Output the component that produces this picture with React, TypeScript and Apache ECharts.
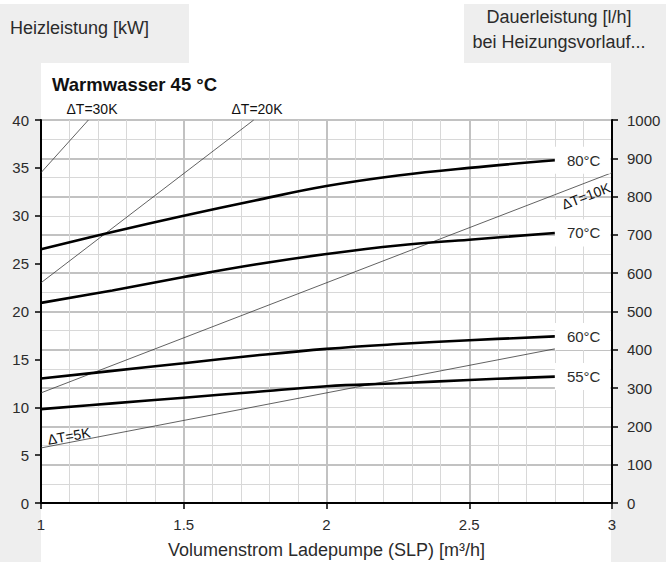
import React, { useEffect, useRef } from "react";
import * as echarts from "echarts";

// Charging-pump flow rate [m³/h] at which the heating curves are sampled
const flowRate = [1.0, 1.25, 1.5, 1.75, 2.0, 2.25, 2.5, 2.8];

// Heating output [kW] per heating flow temperature
const heat80 = [26.5, 28.3, 30.0, 31.6, 33.1, 34.2, 35.0, 35.8];
const heat70 = [20.9, 22.2, 23.6, 24.9, 26.0, 26.9, 27.5, 28.2];
const heat60 = [13.0, 13.8, 14.6, 15.4, 16.1, 16.6, 17.0, 17.4];
const heat55 = [9.8, 10.4, 11.0, 11.6, 12.2, 12.5, 12.85, 13.2];
const curveNames = ["80°C", "70°C", "60°C", "55°C"];

// Temperature-spread reference lines: [flow rate, kW] end points
const spread30K = [[1.0, 34.5], [1.166, 40]];
const spread20K = [[1.0, 23.0], [1.745, 40]];
const spread10K = [[1.0, 11.5], [3.0, 34.5]];
const spread5K = [[1.0, 5.75], [2.8, 16.1]];
const spreadNames = ["ΔT=30K", "ΔT=20K", "ΔT=10K", "ΔT=5K"];

// Axis ranges and tick steps
const xRange = [1, 3];
const xStep = 0.5;
const kwRange = [0, 40];
const kwStep = 5;
const lhRange = [0, 1000];
const lhStep = 100;

const FONT = "'Liberation Sans', Arial, Helvetica, sans-serif";
const GREY_PANEL = "#eeeeee";
const TEXT = "#2b2b2b";
const MAJOR_GRID = "#c2c2c2";
const MINOR_GRID = "#d8d8d8";

export default function App() {
  const ref = useRef<HTMLDivElement>(null);

  useEffect(() => {
    document.body.style.margin = "0";
    if (!ref.current) return;
    const chart = echarts.init(ref.current, undefined, { renderer: "svg" });

    const curves = [heat80, heat70, heat60, heat55].map((vals, i) => ({
      name: curveNames[i],
      type: "line",
      yAxisIndex: 0,
      smooth: 0.4,
      symbol: "none",
      z: 5,
      lineStyle: { color: "#000", width: 2.6 },
      data: flowRate.map((x, j) => [x, vals[j]]),
      endLabel: {
        show: true,
        formatter: "{a}",
        distance: 0,
        backgroundColor: "#fff",
        padding: [6, 10, 6, 12],
        color: TEXT,
        fontSize: 15,
        fontFamily: FONT,
      },
    }));

    const spreads = [spread30K, spread20K, spread10K, spread5K].map((pts, i) => ({
      name: spreadNames[i],
      type: "line",
      yAxisIndex: 0,
      symbol: "none",
      z: 3,
      lineStyle: { color: "#3a3a3a", width: 0.8 },
      data: pts,
    }));

    const deg = Math.PI / 180;
    const smallText = (text: string, x: number, y: number, rot = 0) => ({
      type: "text",
      x,
      y,
      rotation: rot * deg,
      z: 20,
      style: {
        text,
        fill: "#111",
        fontSize: 14,
        fontFamily: FONT,
        align: "center",
        verticalAlign: "middle",
      },
    });

    const plainNumber = (v: number) => String(v);

    chart.setOption({
      animation: false,
      backgroundColor: "transparent",
      grid: {
        left: 41,
        right: 54,
        top: 120,
        bottom: 66,
        show: true,
        borderColor: "#000",
        borderWidth: 1.5,
      },
      xAxis: {
        type: "value",
        min: xRange[0],
        max: xRange[1],
        interval: xStep,
        name: "Volumenstrom Ladepumpe (SLP) [m³/h]",
        nameLocation: "middle",
        nameGap: 38,
        nameTextStyle: { fontSize: 18, fontFamily: FONT, color: TEXT },
        axisLine: { show: true, lineStyle: { color: "#000", width: 2 } },
        axisTick: { show: true, length: 6, lineStyle: { color: "#000", width: 1.5 } },
        axisLabel: { margin: 14, fontSize: 15, fontFamily: FONT, color: TEXT, formatter: plainNumber },
        splitLine: { show: true, lineStyle: { color: MAJOR_GRID, width: 2 } },
        minorTick: { show: false, splitNumber: 5 },
        minorSplitLine: { show: true, lineStyle: { color: MINOR_GRID, width: 1 } },
      },
      yAxis: [
        {
          type: "value",
          position: "left",
          min: kwRange[0],
          max: kwRange[1],
          interval: kwStep,
          axisLine: { show: true, lineStyle: { color: "#000", width: 2 } },
          axisTick: { show: true, length: 6, lineStyle: { color: "#000", width: 1.5 } },
          axisLabel: { margin: 12, fontSize: 15, fontFamily: FONT, color: TEXT, formatter: plainNumber },
          splitLine: { show: false },
        },
        {
          type: "value",
          position: "right",
          min: lhRange[0],
          max: lhRange[1],
          interval: lhStep,
          axisLine: { show: true, lineStyle: { color: "#000", width: 2 } },
          axisTick: { show: true, length: 6, lineStyle: { color: "#000", width: 1.5 } },
          axisLabel: { margin: 15, fontSize: 15, fontFamily: FONT, color: TEXT, formatter: plainNumber },
          splitLine: { show: true, lineStyle: { color: MAJOR_GRID, width: 2 } },
          minorTick: { show: false, splitNumber: 2 },
          minorSplitLine: { show: true, lineStyle: { color: MINOR_GRID, width: 1 } },
        },
      ],
      graphic: [
        { type: "rect", z: -10, shape: { x: 0, y: 4, width: 189, height: 59 }, style: { fill: GREY_PANEL } },
        { type: "rect", z: -10, shape: { x: 0, y: 63, width: 41, height: 499 }, style: { fill: GREY_PANEL } },
        { type: "rect", z: -10, shape: { x: 464, y: 4, width: 202, height: 59 }, style: { fill: GREY_PANEL } },
        { type: "rect", z: -10, shape: { x: 611, y: 63, width: 55, height: 499 }, style: { fill: GREY_PANEL } },
        {
          type: "text",
          x: 10,
          y: 28,
          z: 20,
          style: {
            text: "Heizleistung [kW]",
            fill: TEXT,
            fontSize: 18,
            fontFamily: FONT,
            align: "left",
            verticalAlign: "middle",
          },
        },
        {
          type: "text",
          x: 559,
          y: 29,
          z: 20,
          style: {
            text: "Dauerleistung [l/h]\nbei Heizungsvorlauf...",
            fill: TEXT,
            fontSize: 18,
            lineHeight: 25,
            fontFamily: FONT,
            align: "center",
            verticalAlign: "middle",
          },
        },
        {
          type: "text",
          x: 52,
          y: 84,
          z: 20,
          style: {
            text: "Warmwasser 45 °C",
            fill: "#111",
            fontSize: 18.5,
            fontWeight: "bold",
            fontFamily: FONT,
            align: "left",
            verticalAlign: "middle",
          },
        },
        smallText(spreadNames[0], 92, 109),
        smallText(spreadNames[1], 257, 109),
        smallText(spreadNames[2], 586, 196, 21),
        smallText(spreadNames[3], 69, 436, 10),
      ],
      series: [...spreads, ...curves],
    });

    return () => chart.dispose();
  }, []);

  return <div ref={ref} style={{ width: 666, height: 569 }} />;
}
